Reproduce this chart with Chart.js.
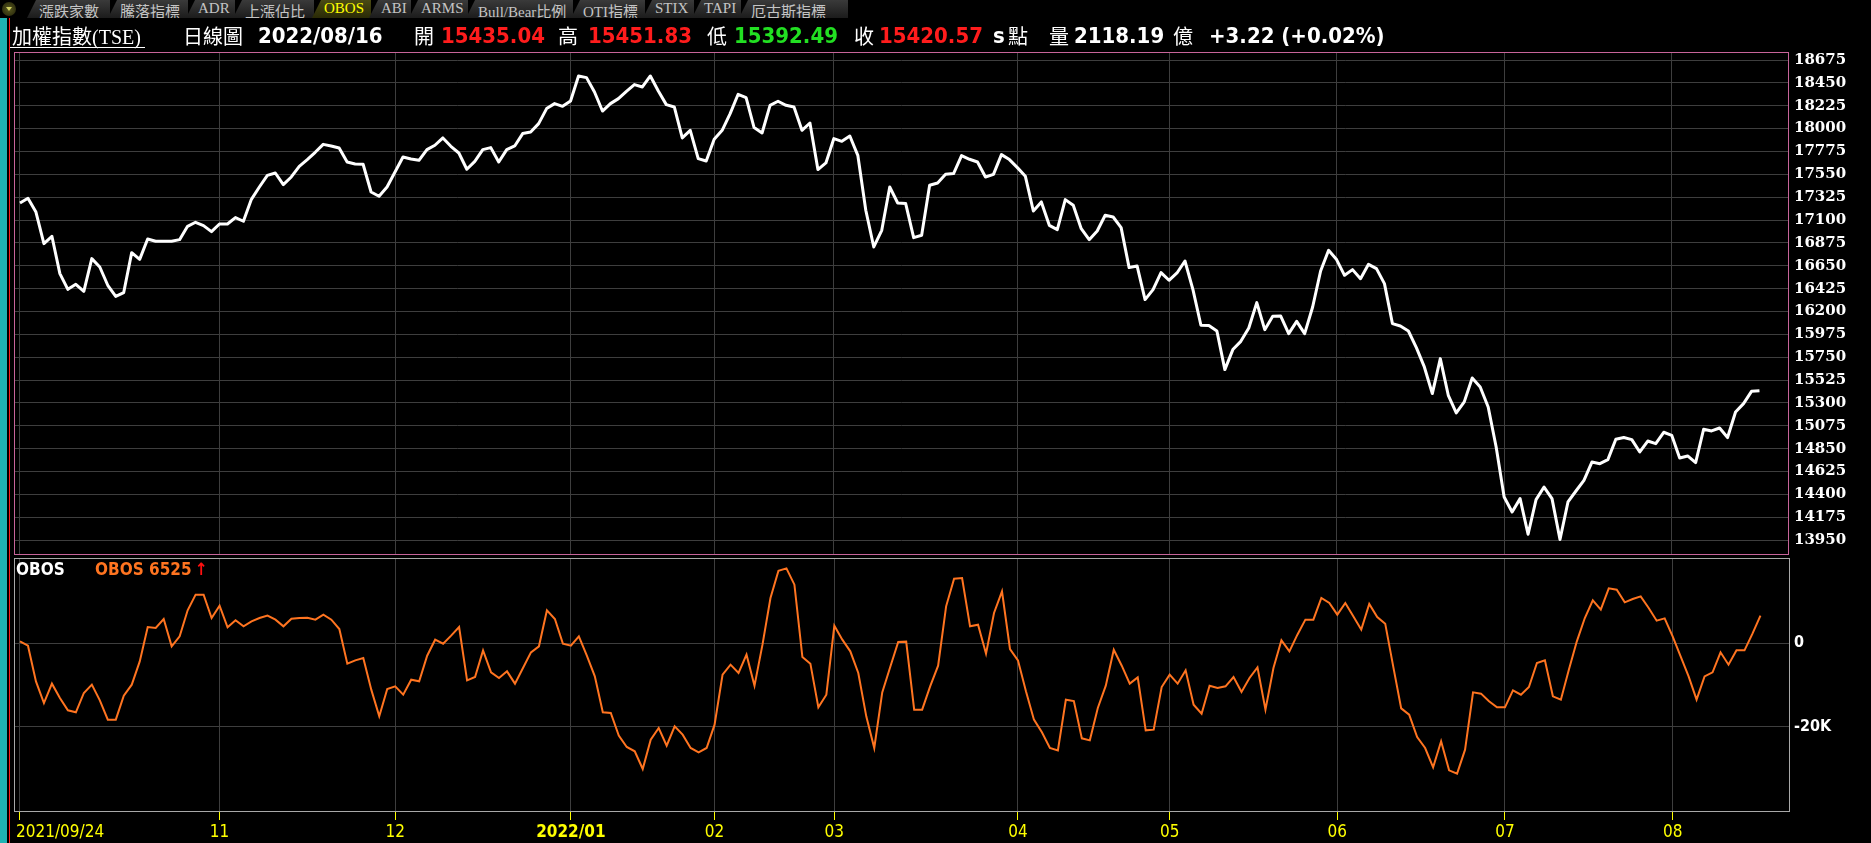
<!DOCTYPE html>
<html>
<head>
<meta charset="utf-8">
<script src="https://cdn.jsdelivr.net/npm/chart.js@4.4.1/dist/chart.umd.min.js"></script>
<style>
  html, body { margin: 0; padding: 0; background: #000; }
  #wrap { position: relative; width: 1871px; height: 843px; overflow: hidden; background: #000; }
  canvas { position: absolute; left: 0; }
  #mainChart { top: 40px; }
  #obosChart { top: 555px; }
  .abs { position: absolute; white-space: nowrap; }
  .tab {
    position: absolute; top: 0; height: 18px; line-height: 18px;
    padding-left: 12px; box-sizing: border-box;
    background: linear-gradient(#3a3a3a, #1c1c1c);
    clip-path: polygon(9px 0, 100% 0, 100% 100%, 0 100%);
    color: #c4c4c4; font: 15px "Liberation Serif", "Noto Sans CJK TC", serif;
  }
  .tab.on { background: linear-gradient(#4a4a14, #2a2a06); color: #ffff00; }
  .knob { position: absolute; left: 2px; top: 2px; width: 14px; height: 14px; border-radius: 50%;
    background: radial-gradient(#5a5a20, #202008); }
  .knob:after { content: ""; position: absolute; left: 4px; top: 5px;
    border-left: 3px solid transparent; border-right: 3px solid transparent; border-top: 4px solid #d0d060; }
  .hz { font: 20px "Noto Sans CJK TC", sans-serif; color: #fff; top: 23px; line-height: 26px; }
  .num { font: bold 22px "DejaVu Sans Condensed", "Liberation Sans Narrow", sans-serif; color: #fff; top: 23px; line-height: 26px; }
  .red { color: #ff1c1c; }
  .green { color: #22e022; }
  .ttl { font: bold 17px "DejaVu Sans Condensed", "Liberation Sans Narrow", sans-serif; top: 561px; line-height: 17px; }
</style>
</head>
<body>
<div id="wrap">
  <canvas id="mainChart" width="1871" height="530"></canvas>
  <canvas id="obosChart" width="1871" height="288"></canvas>

  <!-- left edge strips -->
  <div class="abs" style="left:0;top:18px;width:7px;height:825px;background:#1fb4b4"></div>
  <div class="abs" style="left:9px;top:18px;width:1px;height:825px;background:#ff2020"></div>

  <!-- tab bar -->
  <div class="knob"></div>
  <div class="tab" style="left:27px;width:83px">漲跌家數</div>
  <div class="tab" style="left:108px;width:80px">騰落指標</div>
  <div class="tab" style="left:186px;width:49px">ADR</div>
  <div class="tab" style="left:233px;width:81px">上漲佔比</div>
  <div class="tab on" style="left:312px;width:59px">OBOS</div>
  <div class="tab" style="left:369px;width:42px">ABI</div>
  <div class="tab" style="left:409px;width:59px">ARMS</div>
  <div class="tab" style="left:466px;width:107px">Bull/Bear比例</div>
  <div class="tab" style="left:571px;width:74px">OTI指標</div>
  <div class="tab" style="left:643px;width:51px">STIX</div>
  <div class="tab" style="left:692px;width:49px">TAPI</div>
  <div class="tab" style="left:739px;width:109px">厄古斯指標</div>

  <!-- header line -->
  <div class="abs hz" style="left:12px">加權指數<span style="font-family:'Liberation Serif',serif">(TSE)</span></div>
  <div class="abs" style="left:10px;top:47px;width:135px;height:1px;background:#fff"></div>
  <div class="abs hz" style="left:183px">日線圖</div>
  <div class="abs num" style="left:258px">2022/08/16</div>
  <div class="abs hz" style="left:414px">開</div>
  <div class="abs num red" style="left:441px">15435.04</div>
  <div class="abs hz" style="left:558px">高</div>
  <div class="abs num red" style="left:588px">15451.83</div>
  <div class="abs hz" style="left:707px">低</div>
  <div class="abs num green" style="left:734px">15392.49</div>
  <div class="abs hz" style="left:854px">收</div>
  <div class="abs num red" style="left:879px">15420.57</div>
  <div class="abs num" style="left:993px">s</div>
  <div class="abs hz" style="left:1008px">點</div>
  <div class="abs hz" style="left:1049px">量</div>
  <div class="abs num" style="left:1074px">2118.19</div>
  <div class="abs hz" style="left:1173px">億</div>
  <div class="abs num" style="left:1209px">+3.22 (+0.02%)</div>

  <!-- OBOS panel title -->
  <div class="abs ttl" style="left:16px;color:#fff">OBOS</div>
  <div class="abs ttl" style="left:95px;color:#ff7420">OBOS 6525</div>
  <div class="abs ttl" style="left:195px;color:#ff1010">↑</div>
</div>

<script>
// trading-day index of the first session of each month, and its axis label
const monthStarts = [0, 25, 47, 69, 87, 102, 125, 144, 165, 186, 207];
const monthLabels = ['2021/09/24', '11', '12', '2022/01', '02', '03', '04', '05', '06', '07', '08'];

const priceTicks = [13950, 14175, 14400, 14625, 14850, 15075, 15300, 15525, 15750, 15975, 16200,
  16425, 16650, 16875, 17100, 17325, 17550, 17775, 18000, 18225, 18450, 18675];
const obosTicks = [0, -20000];

// TAIEX daily close, 2021/09/24 .. 2022/08/16
const taiex = [
  17268, 17314, 17179, 16868, 16940, 16573, 16418, 16467, 16398, 16720,
  16638, 16458, 16349, 16386, 16779, 16713, 16913, 16891, 16891, 16891,
  16907, 17038, 17078, 17045, 16986, 17061, 17061, 17124, 17088, 17304,
  17425, 17540, 17563, 17449, 17524, 17629, 17695, 17767, 17845, 17829,
  17809, 17671, 17652, 17649, 17376, 17334, 17425, 17573, 17721, 17701,
  17688, 17793, 17836, 17908, 17826, 17760, 17600, 17678, 17793, 17813,
  17671, 17793, 17829, 17951, 17967, 18049, 18197, 18246, 18219, 18272,
  18518, 18502, 18360, 18173, 18246, 18295, 18367, 18433, 18410, 18518,
  18370, 18236, 18213, 17908, 17983, 17705, 17681, 17895, 17983, 18148,
  18338, 18305, 18010, 17957, 18229, 18269, 18229, 18213, 17983, 18055,
  17597, 17662, 17902, 17875, 17927, 17737, 17196, 16835, 16999, 17425,
  17268, 17262, 16927, 16950, 17442, 17465, 17550, 17557, 17734, 17698,
  17671, 17524, 17550, 17744, 17695, 17616, 17530, 17189, 17278, 17048,
  17006, 17301, 17245, 17015, 16907, 16992, 17147, 17130, 17025, 16632,
  16648, 16317, 16415, 16583, 16507, 16579, 16697, 16415, 16064, 16061,
  16008, 15628, 15825, 15906, 16037, 16287, 16021, 16152, 16155, 15982,
  16103, 15982, 16244, 16598, 16802, 16711, 16556, 16612, 16523, 16664,
  16622, 16474, 16081, 16057, 16008, 15844, 15654, 15392, 15736, 15375,
  15201, 15310, 15545, 15457, 15260, 14866, 14374, 14226, 14358, 14007,
  14348, 14472, 14358, 13955, 14325, 14433, 14538, 14718, 14702, 14742,
  14942, 14959, 14939, 14817, 14925, 14899, 15011, 14981, 14758, 14778,
  14713, 15041, 15024, 15053, 14959, 15211, 15293, 15414, 15420
];

// OBOS, same sessions
const obos = [
  400, -640, -9130, -14290, -9680, -13100, -16030, -16510, -11900, -9920,
  -13650, -18250, -18250, -12540, -9920, -4370, 3810, 3570, 5710, -790,
  1590, 7780, 11510, 11510, 5950, 8890, 3730, 5400, 3970, 5160,
  5950, 6510, 5560, 3970, 5790, 5950, 6030, 5560, 6750, 5560,
  3330, -4920, -4130, -3570, -11110, -17460, -10950, -10320, -12300, -8730,
  -9130, -3020, 790, -160, 1750, 3810, -8890, -8100, -1750, -6980,
  -8330, -6750, -9680, -5950, -2220, -790, 7780, 5710, -160, -640,
  1590, -3020, -7940, -16510, -16670, -22060, -24760, -25790, -30000, -23020,
  -20240, -24440, -19840, -21830, -25000, -26030, -25000, -19440, -7540, -5160,
  -7140, -2780, -10160, -400, 10710, 17220, 17780, 13890, -3330, -4920,
  -15320, -12300, 4130, 790, -1980, -7140, -17460, -25000, -11750, -5710,
  240, 320, -15870, -15870, -10320, -5400, 8730, 15320, 15480, 3970,
  4370, -2540, 7140, 12300, -1430, -4130, -11510, -18250, -21270, -25000,
  -25560, -13490, -13810, -22700, -23180, -15480, -10160, -1590, -5400, -9680,
  -8180, -20800, -20640, -10480, -7540, -9680, -6510, -14680, -16830, -10160,
  -10710, -10320, -8100, -11670, -8330, -5790, -15870, -5950, 640, -1980,
  1980, 5560, 5560, 10710, 9520, 6750, 9520, 6350, 3180, 9290,
  6190, 4600, -5560, -15560, -17060, -22380, -25000, -29600, -23410, -30320,
  -31110, -25400, -11750, -12060, -13890, -15320, -15320, -11270, -12300, -10480,
  -4760, -4130, -12700, -13490, -6350, 400, 5950, 10160, 7940, 13020,
  12700, 9680, 10480, 11110, 8330, 5320, 5870, 1590, -3180, -7940,
  -13490, -7940, -6980, -2220, -5160, -1750, -1750, 2220, 6525
];

const GRID = '#3e3e3e';
const NARROW = '"DejaVu Sans Condensed", "Liberation Sans Narrow", sans-serif';

function toPoints(values){
  return values.map(function(v, i){ return { x: i, y: v }; });
}

function monthGrid(scale){
  scale.ticks = monthStarts.map(function(v){ return { value: v }; });
}

// frame round the plot area of each panel
const panelBox = {
  id: 'panelBox',
  beforeDatasetsDraw(chart, args, opts){
    const a = chart.chartArea;
    const ctx = chart.ctx;
    ctx.save();
    ctx.strokeStyle = opts.color;
    ctx.lineWidth = 1;
    ctx.strokeRect(Math.round(a.left) + 0.5, Math.round(a.top) + 0.5,
      Math.round(a.right - a.left) - 1, Math.round(a.bottom - a.top) - 1);
    ctx.restore();
  }
};

// month labels under the lower panel (first one starts at its tick, others centred)
const monthText = {
  id: 'monthText',
  afterDraw(chart){
    const ctx = chart.ctx;
    const xs = chart.scales.x;
    const y = chart.chartArea.bottom + 21;
    ctx.save();
    ctx.fillStyle = '#ffff00';
    ctx.textBaseline = 'middle';
    monthStarts.forEach(function(idx, k){
      const label = monthLabels[k];
      const x = xs.getPixelForValue(idx);
      const yearStart = k > 0 && label.indexOf('/') > 0;
      ctx.font = (yearStart ? 'bold ' : '') + '17px ' + NARROW;
      ctx.textAlign = k === 0 ? 'left' : 'center';
      ctx.fillText(label, k === 0 ? x - 4 : x, y);
    });
    ctx.restore();
  }
};

const xRange = { min: -0.75, max: 221.7 };

new Chart(document.getElementById('mainChart'), {
  type: 'line',
  data: {
    datasets: [{
      data: toPoints(taiex),
      borderColor: '#ffffff',
      borderWidth: 3,
      borderJoinStyle: 'round',
      pointRadius: 0,
      tension: 0
    }]
  },
  options: {
    responsive: false,
    animation: false,
    events: [],
    layout: { padding: { left: 14, top: 12, right: 0, bottom: 15 } },
    plugins: { legend: { display: false }, tooltip: { enabled: false }, panelBox: { color: '#c8649a' } },
    scales: {
      x: {
        type: 'linear', min: xRange.min, max: xRange.max,
        afterBuildTicks: monthGrid,
        ticks: { display: false },
        grid: { color: GRID, drawTicks: false },
        border: { display: false }
      },
      y: {
        position: 'right',
        min: 13803, max: 18754,
        afterBuildTicks: function(scale){ scale.ticks = priceTicks.map(function(v){ return { value: v }; }); },
        afterFit: function(scale){ scale.width = 82; scale.paddingTop = 0; scale.paddingBottom = 0; },
        ticks: {
          color: '#ffffff', padding: 5,
          font: { family: 'DejaVu Serif', size: 15, weight: 'bold' },
          callback: function(v){ return String(v); }
        },
        grid: { color: GRID, drawTicks: false },
        border: { display: false }
      }
    }
  },
  plugins: [panelBox]
});

new Chart(document.getElementById('obosChart'), {
  type: 'line',
  data: {
    datasets: [{
      data: toPoints(obos),
      borderColor: '#ff7420',
      borderWidth: 2,
      pointRadius: 0,
      tension: 0
    }]
  },
  options: {
    responsive: false,
    animation: false,
    events: [],
    layout: { padding: { left: 14, top: 3, right: 0, bottom: 23 } },
    plugins: { legend: { display: false }, tooltip: { enabled: false }, panelBox: { color: '#a8a8a8' } },
    scales: {
      x: {
        type: 'linear', min: xRange.min, max: xRange.max,
        afterBuildTicks: monthGrid,
        ticks: { display: false },
        grid: { color: GRID, tickColor: '#ffff00', tickLength: 8, drawTicks: true },
        border: { display: false }
      },
      y: {
        position: 'right',
        min: -40240, max: 20240,
        afterBuildTicks: function(scale){ scale.ticks = obosTicks.map(function(v){ return { value: v }; }); },
        afterFit: function(scale){ scale.width = 81; scale.paddingTop = 0; scale.paddingBottom = 0; },
        ticks: {
          color: '#ffffff', padding: 4,
          font: { family: 'DejaVu Sans Condensed', size: 16, weight: 'bold' },
          callback: function(v){ return v === 0 ? '0' : (v / 1000) + 'K'; }
        },
        grid: { color: GRID, drawTicks: false },
        border: { display: false }
      }
    }
  },
  plugins: [panelBox, monthText]
});
</script>
</body>
</html>
